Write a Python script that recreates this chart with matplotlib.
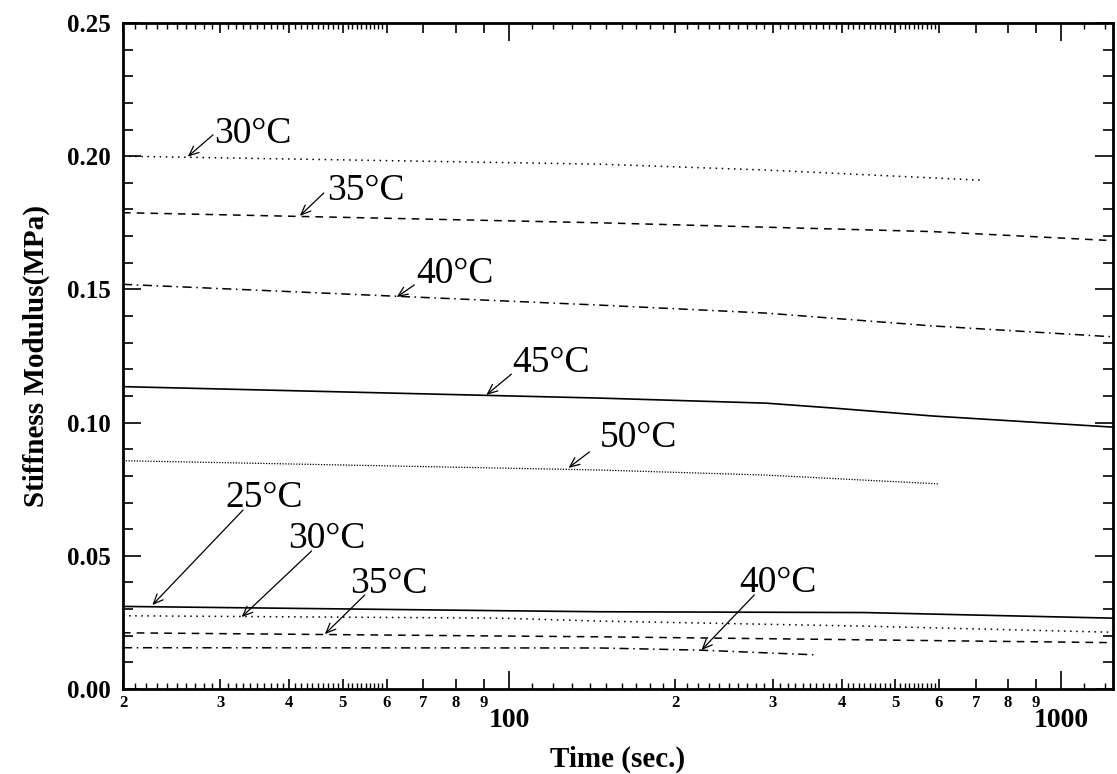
import matplotlib
matplotlib.use("Agg")
import matplotlib.pyplot as plt

plt.rcParams['font.family'] = ['Liberation Serif', 'DejaVu Serif']

# stiffness modulus vs time, upper group
t30 = [20, 146, 292, 715]
s30 = [0.200, 0.197, 0.1948, 0.191]
t35 = [20, 146, 583, 1240]
s35 = [0.1788, 0.1750, 0.1717, 0.1683]
t40 = [20, 146, 292, 583, 1240]
s40 = [0.1519, 0.1441, 0.1411, 0.1363, 0.1322]
t45 = [20, 146, 292, 384, 583, 1240]
s45 = [0.1135, 0.1092, 0.1073, 0.1055, 0.1025, 0.0983]
t50 = [20, 146, 292, 598]
s50 = [0.0857, 0.0822, 0.0803, 0.0770]

# lower group
t25b = [20, 96, 146, 440, 1240]
s25b = [0.0310, 0.0294, 0.0290, 0.0287, 0.0266]
t30b = [20, 96, 146, 440, 1240]
s30b = [0.0275, 0.0266, 0.0255, 0.0236, 0.0213]
t35b = [20, 96, 146, 1240]
s35b = [0.0211, 0.0199, 0.0196, 0.0174]
t40b = [20, 146, 221, 361]
s40b = [0.0155, 0.0154, 0.0146, 0.0128]

# label text, text anchor, arrow start, arrow tip
notes = [
    ("30°C", (29.3, 0.2050), (29.1, 0.2080), (26.2, 0.1998)),
    ("35°C", (46.8, 0.1836), (46.2, 0.1862), (41.8, 0.1776)),
    ("40°C", (68.0, 0.1524), (67.4, 0.1517), (62.6, 0.1471)),
    ("45°C", (101.5, 0.1190), (101.0, 0.1182), (91.0, 0.1104)),
    ("50°C", (145.8, 0.0908), (139.8, 0.0890), (128.1, 0.0830)),
    ("25°C", (30.6, 0.0683), (33.0, 0.0672), (22.6, 0.0315)),
    ("30°C", (39.8, 0.0529), (43.9, 0.0518), (32.8, 0.0270)),
    ("35°C", (51.5, 0.0360), (54.8, 0.0353), (46.4, 0.0206)),
    ("40°C", (261, 0.0364), (278, 0.0353), (223, 0.0146)),
]

digit_ticks = [20, 30, 40, 50, 60, 70, 80, 90, 200, 300, 400, 500, 600, 700, 800, 900]
fine_ticks = [v for v in range(21, 60) if v % 10] + [v for v in range(110, 600, 10) if v % 100] + [1100, 1200]

fig = plt.figure(figsize=(11.17, 7.74), dpi=100)
ax = fig.add_axes([0.1101, 0.1098, 0.8863, 0.8605])

ax.plot(t30, s30, color='black', linestyle=(0, (1, 3)), linewidth=1.1)
ax.plot(t35, s35, color='black', linestyle=(0, (5, 4)), linewidth=1.1)
ax.plot(t40, s40, color='black', linestyle=(0, (6, 3, 1, 3)), linewidth=1.1)
ax.plot(t45, s45, color='black', linestyle='-', linewidth=1.2)
ax.plot(t50, s50, color='black', linestyle=(0, (1, 1.2)), linewidth=0.9)

ax.plot(t25b, s25b, color='black', linestyle='-', linewidth=1.2)
ax.plot(t30b, s30b, color='black', linestyle=(0, (1, 3)), linewidth=1.1)
ax.plot(t35b, s35b, color='black', linestyle=(0, (5, 4)), linewidth=1.1)
ax.plot(t40b, s40b, color='black', linestyle=(0, (6, 3, 1, 3)), linewidth=1.1)

for label, txt, start, tip in notes:
    ax.text(txt[0], txt[1], label, fontsize=27, ha='left', va='baseline')
    ax.annotate('', xy=tip, xytext=start,
                arrowprops=dict(arrowstyle='->,head_length=0.7,head_width=0.3',
                                color='black', lw=0.9, shrinkA=0, shrinkB=0))

ax.set_xscale('log')
ax.set_xlim(20, 1240)
ax.set_ylim(0, 0.25)

ax.set_xticks([100, 1000], labels=['100', '1000'])
ax.set_xticks(digit_ticks, labels=[str(v)[0] for v in digit_ticks], minor=True)
ax.set_yticks([0, 0.05, 0.10, 0.15, 0.20, 0.25],
              labels=['0.00', '0.05', '0.10', '0.15', '0.20', '0.25'])
ax.set_yticks([v / 100 for v in range(26) if v % 5], minor=True)

ax.tick_params(which='both', direction='in', top=True, right=True, width=1.2)
ax.tick_params(axis='x', which='major', length=13, pad=14, labelsize=20)
ax.tick_params(axis='x', which='minor', length=7, pad=4, labelsize=12)
ax.tick_params(axis='y', which='major', length=13, pad=9, labelsize=18)
ax.tick_params(axis='y', which='minor', length=7)
for lab in ax.get_xticklabels(which='both') + ax.get_yticklabels():
    lab.set_fontweight('bold')

for side in ['bottom', 'top']:
    sec = ax.secondary_xaxis(side)
    sec.set_xticks(fine_ticks, labels=[])
    sec.set_xticks([], minor=True)
    sec.tick_params(which='both', direction='in', length=4, width=1)
    sec.spines[side].set_visible(False)

for sp in ax.spines.values():
    sp.set_linewidth(2)

ax.set_xlabel('Time (sec.)', fontsize=21, fontweight='bold', labelpad=9)
ax.set_ylabel('Stiffness Modulus(MPa)', fontsize=21, fontweight='bold', labelpad=12)

plt.savefig('out.png', dpi=100)
